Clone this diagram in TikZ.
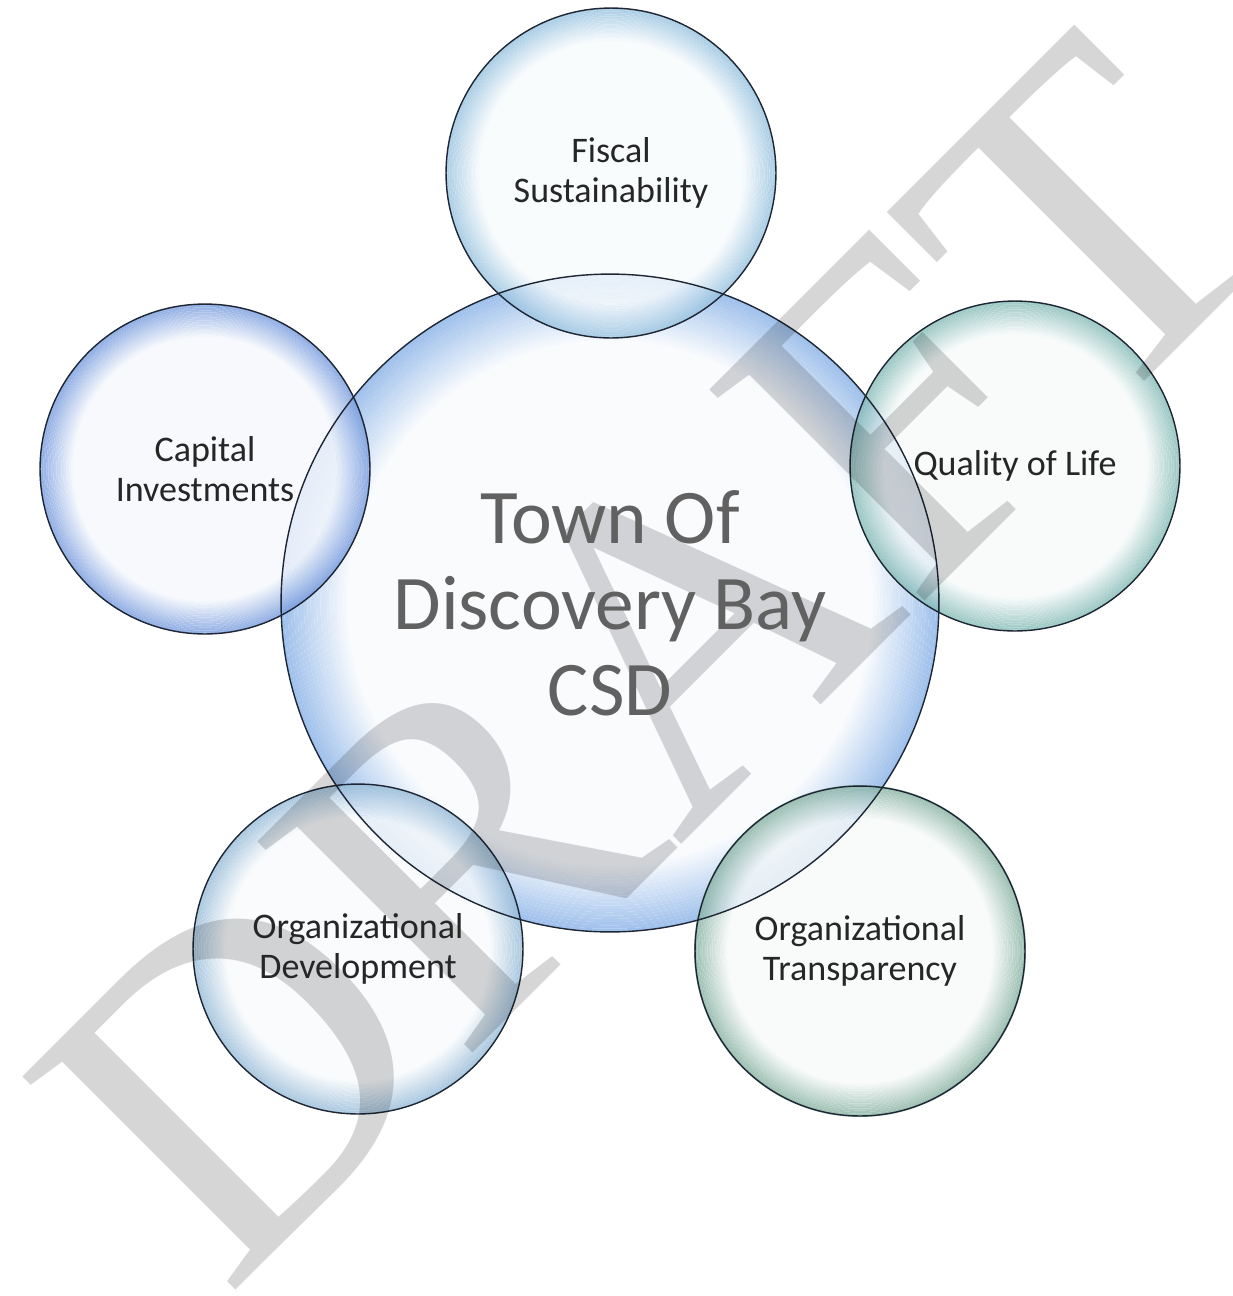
\documentclass[tikz,border=0pt]{standalone}
\usepackage{fontspec}
\setmainfont{Carlito}
\newfontfamily\draftfont{Liberation Serif}
\usetikzlibrary{positioning}

\definecolor{bubTown}{RGB}{125,170,228}
\definecolor{bubFiscal}{RGB}{140,188,220}
\definecolor{bubCapital}{RGB}{105,145,218}
\definecolor{bubQuality}{RGB}{120,180,175}
\definecolor{bubDev}{RGB}{140,180,212}
\definecolor{bubTrans}{RGB}{120,168,150}
\definecolor{rimline}{RGB}{30,38,52}

\tikzset{
  bubble/.style={circle, draw=rimline, line width=0.8pt,
    minimum size=6.6cm, inner sep=0pt},
  lbl/.style={align=center, text=black!85,
    font=\fontsize{20.5}{22.7}\selectfont},
  townlbl/.style={align=center, text=black!62,
    font=\fontsize{44}{49}\selectfont},
  draftmark/.style={rotate=45, anchor=base west, inner sep=0pt, text=black,
    text opacity=0.16, font=\draftfont\fontsize{262}{262}\selectfont}
}

\begin{document}
\begin{tikzpicture}[x=0.02cm,y=0.02cm]
  \useasboundingbox (0,-1296) rectangle (1232,0);

  % glassy fills: pale middle, rings getting darker to the rim
  \foreach \x/\y/\r/\c in {610/-603/329/bubTown, 611/-173/165/bubFiscal,
      205/-469/165/bubCapital, 1015/-466/165/bubQuality,
      358/-949/165/bubDev, 860/-951/166/bubTrans} {
    \fill[\c!6!white, fill opacity=0.8] (\x,\y) circle[radius={0.8*\r}];
    \foreach \k in {0,...,19} {
      \pgfmathtruncatemacro\mix{92-4.3*\k}
      \fill[\c!\mix!white, fill opacity=0.8, even odd rule]
        (\x,\y) circle[radius={\r*(1-0.01*\k)}]
        (\x,\y) circle[radius={\r*(1-0.01*(\k+1))}];
    }
  }

  % the rims
  \node[bubble, minimum size=13.16cm] (town) at (610,-603) {};
  \foreach \nm/\x/\y in {fiscal/611/-173, capital/205/-469,
      quality/1015/-466, develop/358/-949, transp/860/-951} {
    \node[bubble] (\nm) at (\x,\y) {};
  }

  % watermark
  \node[draftmark] (draft) at (226,-1300) {DRAFT};

  % the texts
  \node[townlbl] (townlbl) at (town) {Town Of\\Discovery Bay\\CSD};
  \node[lbl] (fiscallbl) at (fiscal) {Fiscal\\Sustainability};
  \node[lbl] (capitallbl) at (capital) {Capital\\Investments};
  \node[lbl] (qualitylbl) at (quality) {Quality of Life};
  \node[lbl] (developlbl) at (develop) {Organizational\\Development};
  \node[lbl] (transplbl) at (transp) {Organizational\\Transparency};
\end{tikzpicture}
\end{document}
